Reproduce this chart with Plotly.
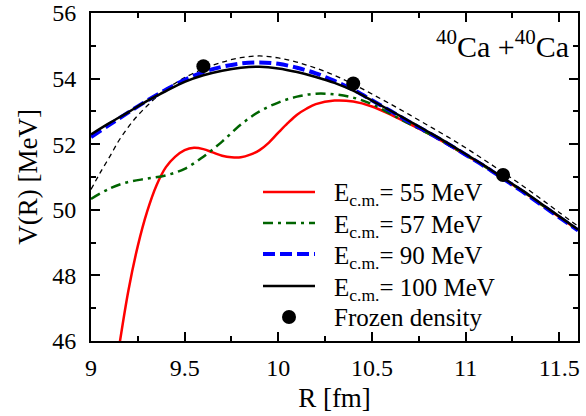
import plotly.graph_objects as go

# ---------------- data ----------------
R_100 = [9.0, 9.1, 9.2, 9.3, 9.4, 9.5, 9.6, 9.7, 9.8, 9.9, 10.0, 10.1, 10.2, 10.3, 10.4,
         10.5, 10.6, 10.7, 10.8, 10.9, 11.0, 11.1, 11.2, 11.3, 11.4, 11.5, 11.6]
V_100 = [52.30, 52.65, 52.98, 53.32, 53.62, 53.90, 54.10, 54.24, 54.33, 54.36, 54.31, 54.20,
         54.05, 53.87, 53.63, 53.33, 53.02, 52.70, 52.38, 52.05, 51.70, 51.35, 50.97, 50.60,
         50.20, 49.80, 49.40]

R_90 = R_100
V_90 = [52.22, 52.60, 52.97, 53.33, 53.66, 53.96, 54.20, 54.36, 54.46, 54.49, 54.45, 54.33,
        54.16, 53.93, 53.66, 53.34, 53.01, 52.68, 52.36, 52.03, 51.68, 51.33, 50.95, 50.57,
        50.17, 49.77, 49.37]

R_57 = R_100
V_57 = [50.33, 50.65, 50.85, 50.95, 51.05, 51.25, 51.62, 52.08, 52.60, 53.00, 53.27, 53.45,
        53.54, 53.52, 53.42, 53.22, 52.92, 52.62, 52.33, 52.01, 51.67, 51.33, 50.95, 50.58,
        50.18, 49.78, 49.38]

R_55 = [9.14, 9.2, 9.25, 9.3, 9.35, 9.4, 9.45, 9.5, 9.55, 9.6, 9.65, 9.7, 9.75, 9.8, 9.85,
        9.9, 9.95, 10.0, 10.05, 10.1, 10.15, 10.2, 10.3, 10.4, 10.5, 10.6, 10.7, 10.8, 10.9,
        11.0, 11.1, 11.2, 11.3, 11.4, 11.5, 11.6]
V_55 = [45.45, 47.55, 48.90, 49.95, 50.75, 51.30, 51.62, 51.82, 51.89, 51.85, 51.75, 51.65,
        51.60, 51.60, 51.68, 51.82, 52.05, 52.35, 52.64, 52.90, 53.08, 53.22, 53.33, 53.30,
        53.15, 52.90, 52.62, 52.33, 52.01, 51.67, 51.33, 50.95, 50.58, 50.18, 49.78, 49.38]

R_ref = [9.0, 9.05, 9.1, 9.15, 9.2, 9.25, 9.3, 9.35, 9.4, 9.45, 9.5, 9.6, 9.7, 9.8, 9.9, 10.0,
         10.1, 10.2, 10.3, 10.4, 10.5, 10.6, 10.7, 10.8, 10.9, 11.0, 11.1, 11.2, 11.3, 11.4,
         11.5, 11.6]
V_ref = [50.62, 51.14, 51.62, 52.12, 52.53, 52.88, 53.17, 53.44, 53.68, 53.86, 54.03, 54.30,
         54.50, 54.64, 54.69, 54.63, 54.50, 54.32, 54.10, 53.83, 53.53, 53.22, 52.90, 52.57,
         52.24, 51.89, 51.52, 51.14, 50.75, 50.34, 49.92, 49.50]

R_frozen = [9.6, 10.4, 11.2]
V_frozen = [54.38, 53.85, 51.06]

series_names = ["E<sub>c.m.</sub>= 55 MeV", "E<sub>c.m.</sub>= 57 MeV",
                "E<sub>c.m.</sub>= 90 MeV", "E<sub>c.m.</sub>= 100 MeV", "Frozen density"]

x_ticks = [9, 9.5, 10, 10.5, 11, 11.5]
x_labels = ["9", "9.5", "10", "10.5", "11", "11.5"]
y_ticks = [46, 48, 50, 52, 54, 56]

FONT = "Liberation Serif"
COLORS = ["#ff0000", "#006400", "#0000ff", "black"]
DASHES = ["solid", "10px,5px,3px,5px", "12px,5px", "solid"]
WIDTHS = [2.5, 2.5, 4, 2.5]

fig = go.Figure()
fig.add_trace(go.Scatter(x=R_ref, y=V_ref, mode="lines", showlegend=False,
                         line=dict(color="black", width=1.3, dash="5px,4px", shape="spline")))
for i, (xs, ys) in enumerate([(R_55, V_55), (R_57, V_57), (R_90, V_90), (R_100, V_100)]):
    fig.add_trace(go.Scatter(x=xs, y=ys, mode="lines", name=series_names[i], showlegend=False,
                             line=dict(color=COLORS[i], width=WIDTHS[i], dash=DASHES[i], shape="spline")))
fig.add_trace(go.Scatter(x=R_frozen, y=V_frozen, mode="markers", name=series_names[4], showlegend=False,
                         marker=dict(color="black", size=14)))

# ---------------- hand-built legend (paper coordinates) ----------------
PLOT_L, PLOT_R, PLOT_T, PLOT_B = 91, 578, 13, 341
def px2paper_x(px):
    return (px - PLOT_L) / (PLOT_R - PLOT_L)
def px2paper_y(py):
    return (PLOT_B - py) / (PLOT_B - PLOT_T)

legend_rows = [192, 223, 254, 286, 317]
line_x0, line_x1, text_x = 263, 315, 332
for i, row in enumerate(legend_rows):
    yp = px2paper_y(row)
    if i < 4:
        fig.add_shape(type="line", xref="paper", yref="paper",
                      x0=px2paper_x(line_x0), x1=px2paper_x(line_x1), y0=yp, y1=yp,
                      line=dict(color=COLORS[i], width=WIDTHS[i], dash=DASHES[i]))
    else:
        fig.add_shape(type="circle", xref="paper", yref="paper",
                      xsizemode="pixel", ysizemode="pixel",
                      xanchor=px2paper_x((line_x0 + line_x1) / 2), yanchor=yp,
                      x0=-7, x1=7, y0=-7, y1=7,
                      fillcolor="black", line=dict(color="black", width=0))
    fig.add_annotation(x=px2paper_x(text_x), y=yp, xref="paper", yref="paper",
                       xanchor="left", yanchor="middle", yshift=-3 if i < 4 else 0,
                       text=series_names[i], showarrow=False,
                       font=dict(family=FONT, size=25, color="black"))

axis_common = dict(showline=True, linecolor="black", linewidth=2, mirror="ticks",
                   ticks="inside", ticklen=9, tickwidth=1.5, tickcolor="black",
                   showgrid=False, zeroline=False, automargin=False,
                   tickfont=dict(family=FONT, size=24, color="black"))

fig.update_xaxes(range=[9, 11.6], tickvals=x_ticks, ticktext=x_labels,
                 minor=dict(dtick=0.25, tick0=9, ticks="inside", ticklen=5, tickwidth=1.5, tickcolor="black"),
                 title=dict(text="R [fm]", font=dict(family=FONT, size=27, color="black"), standoff=8),
                 ticklabelstandoff=4, **axis_common)
fig.update_yaxes(range=[46, 56], tickvals=y_ticks,
                 minor=dict(dtick=1, tick0=46, ticks="inside", ticklen=5, tickwidth=1.5, tickcolor="black"),
                 title=dict(text="V(R) [MeV]", font=dict(family=FONT, size=27, color="black"), standoff=7),
                 ticklabelstandoff=8, **axis_common)

fig.add_annotation(x=0.985, y=0.97, xref="paper", yref="paper", xanchor="right", yanchor="top",
                   text="<sup>40</sup>Ca +<sup>40</sup>Ca", showarrow=False,
                   font=dict(family=FONT, size=30, color="black"))

fig.update_layout(
    width=586, height=416,
    margin=dict(l=PLOT_L, r=586 - PLOT_R, t=PLOT_T, b=416 - PLOT_B),
    paper_bgcolor="white", plot_bgcolor="white",
    font=dict(family=FONT, size=24, color="black"),
    showlegend=False,
)

fig.write_html("out.html", config={"displayModeBar": False},
               post_script="document.body.style.margin='0';")
